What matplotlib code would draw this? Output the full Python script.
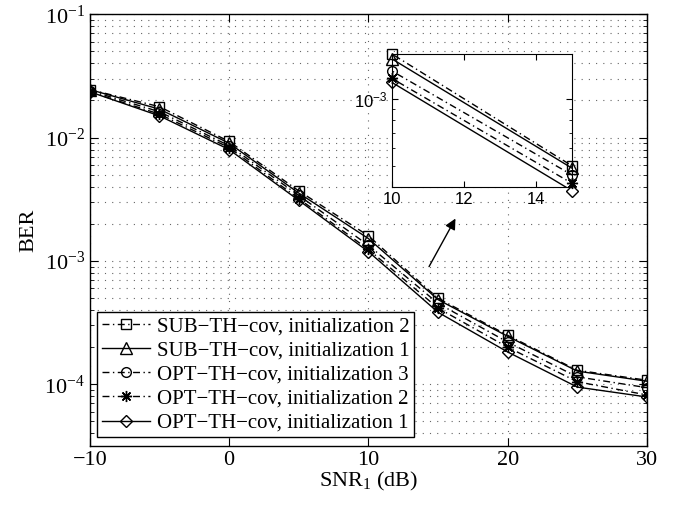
import matplotlib
matplotlib.use('Agg')
import matplotlib.pyplot as plt
import matplotlib.ticker as mticker

plt.rcParams['font.family'] = 'Liberation Serif'
plt.rcParams['mathtext.fontset'] = 'custom'
plt.rcParams['mathtext.rm'] = 'Liberation Serif'
plt.rcParams['mathtext.it'] = 'Liberation Serif:italic'
plt.rcParams['mathtext.sf'] = 'Liberation Sans'

snr = [-10, -5, 0, 5, 10, 15, 20, 25, 30]

sub_init2 = [2.45e-2, 1.78e-2, 9.3e-3, 3.7e-3, 1.60e-3, 4.98e-4, 2.50e-4, 1.30e-4, 1.08e-4]
sub_init1 = [2.45e-2, 1.70e-2, 9.0e-3, 3.55e-3, 1.52e-3, 4.86e-4, 2.45e-4, 1.28e-4, 1.06e-4]
opt_init3 = [2.40e-2, 1.62e-2, 8.6e-3, 3.4e-3, 1.34e-3, 4.53e-4, 2.20e-4, 1.15e-4, 9.4e-5]
opt_init2 = [2.35e-2, 1.55e-2, 8.3e-3, 3.2e-3, 1.24e-3, 4.15e-4, 2.00e-4, 1.05e-4, 8.2e-5]
opt_init1 = [2.35e-2, 1.50e-2, 8.0e-3, 3.1e-3, 1.19e-3, 3.84e-4, 1.83e-4, 9.5e-5, 7.9e-5]

labels = ['SUB\u2212TH\u2212cov, initialization 2',
          'SUB\u2212TH\u2212cov, initialization 1',
          'OPT\u2212TH\u2212cov, initialization 3',
          'OPT\u2212TH\u2212cov, initialization 2',
          'OPT\u2212TH\u2212cov, initialization 1']
series = [sub_init2, sub_init1, opt_init3, opt_init2, opt_init1]
dashdot = (0, (5, 2.5, 1, 2.5))
styles = [dashdot, '-', dashdot, dashdot, '-']
markers = ['s', '^', 'o', (8, 2, 0), 'D']
msizes = [7, 8, 7, 8, 6]

fig = plt.figure(figsize=(6.86, 5.08), dpi=100)
ax = fig.add_axes([0.131, 0.122, 0.812, 0.850])

for y, lab, ls, mk, ms in zip(series, labels, styles, markers, msizes):
    ax.semilogy(snr, y, color='k', ls=ls, marker=mk, ms=ms, mfc='none',
                mec='k', mew=1.0, lw=1.0, label=lab)

ax.set_xlim(-10, 30)
ax.set_ylim(10 ** -4.5, 1e-1)
ax.set_xticks([-10, 0, 10, 20, 30])
ax.xaxis.set_major_formatter(mticker.FuncFormatter(lambda v, p: ('\u2212%d' % -v) if v < 0 else '%d' % v))
ax.grid(True, which='major', axis='x', color='0.4', ls=(0, (1, 5.5)), lw=0.8)
ax.grid(True, which='both', axis='y', color='0.4', ls=(0, (1, 5.5)), lw=0.8)
ax.tick_params(which='both', direction='in', top=True, right=True, labelsize=16)
ax.tick_params(which='major', length=6)
ax.tick_params(which='minor', length=3)
for s in ax.spines.values():
    s.set_linewidth(1.0)

ax.set_xlabel('SNR$_1$ (dB)', fontsize=16, labelpad=0)
ax.set_ylabel('BER', fontsize=16, labelpad=4)

leg = ax.legend(loc='lower left', bbox_to_anchor=(0.013, 0.02), fontsize=15,
                fancybox=False, edgecolor='k', framealpha=1, handlelength=2.3,
                handletextpad=0.35, labelspacing=0.22, borderpad=0.22, borderaxespad=0)
leg.get_frame().set_linewidth(1.0)

ax.annotate('', xy=(16.35, 2.31e-3), xytext=(14.26, 8.6e-4),
            arrowprops=dict(arrowstyle='-|>', color='k', lw=1.0, mutation_scale=16))

# zoomed inset: lines clipped, end markers allowed to overhang the frame
ins = fig.add_axes([0.571, 0.632, 0.263, 0.262])
for y, ls, mk, ms in zip(series, styles, markers, msizes):
    ins.semilogy(snr, y, color='k', ls=ls, lw=1.0)
    ins.semilogy(snr, y, ls='none', marker=mk, ms=ms, mfc='none', mec='k',
                 mew=1.0, markevery=[4, 5], clip_on=False)
ins.set_xlim(10, 15)
ins.set_ylim(4.0e-4, 1.6e-3)
ins.set_xticks([10, 12, 14])
ins.set_yticks([1e-3])
ins.yaxis.set_major_formatter(mticker.FixedFormatter([r'$\mathsf{10^{-3}}$']))
ins.yaxis.set_minor_formatter(mticker.NullFormatter())
ins.tick_params(which='both', direction='in', top=True, right=True, labelsize=12)
ins.tick_params(which='major', length=4)
ins.tick_params(which='minor', length=2)
for t in ins.get_xticklabels() + ins.get_yticklabels():
    t.set_family('Liberation Sans')
ins.set_facecolor('white')

fig.savefig('out.png', dpi=100)
